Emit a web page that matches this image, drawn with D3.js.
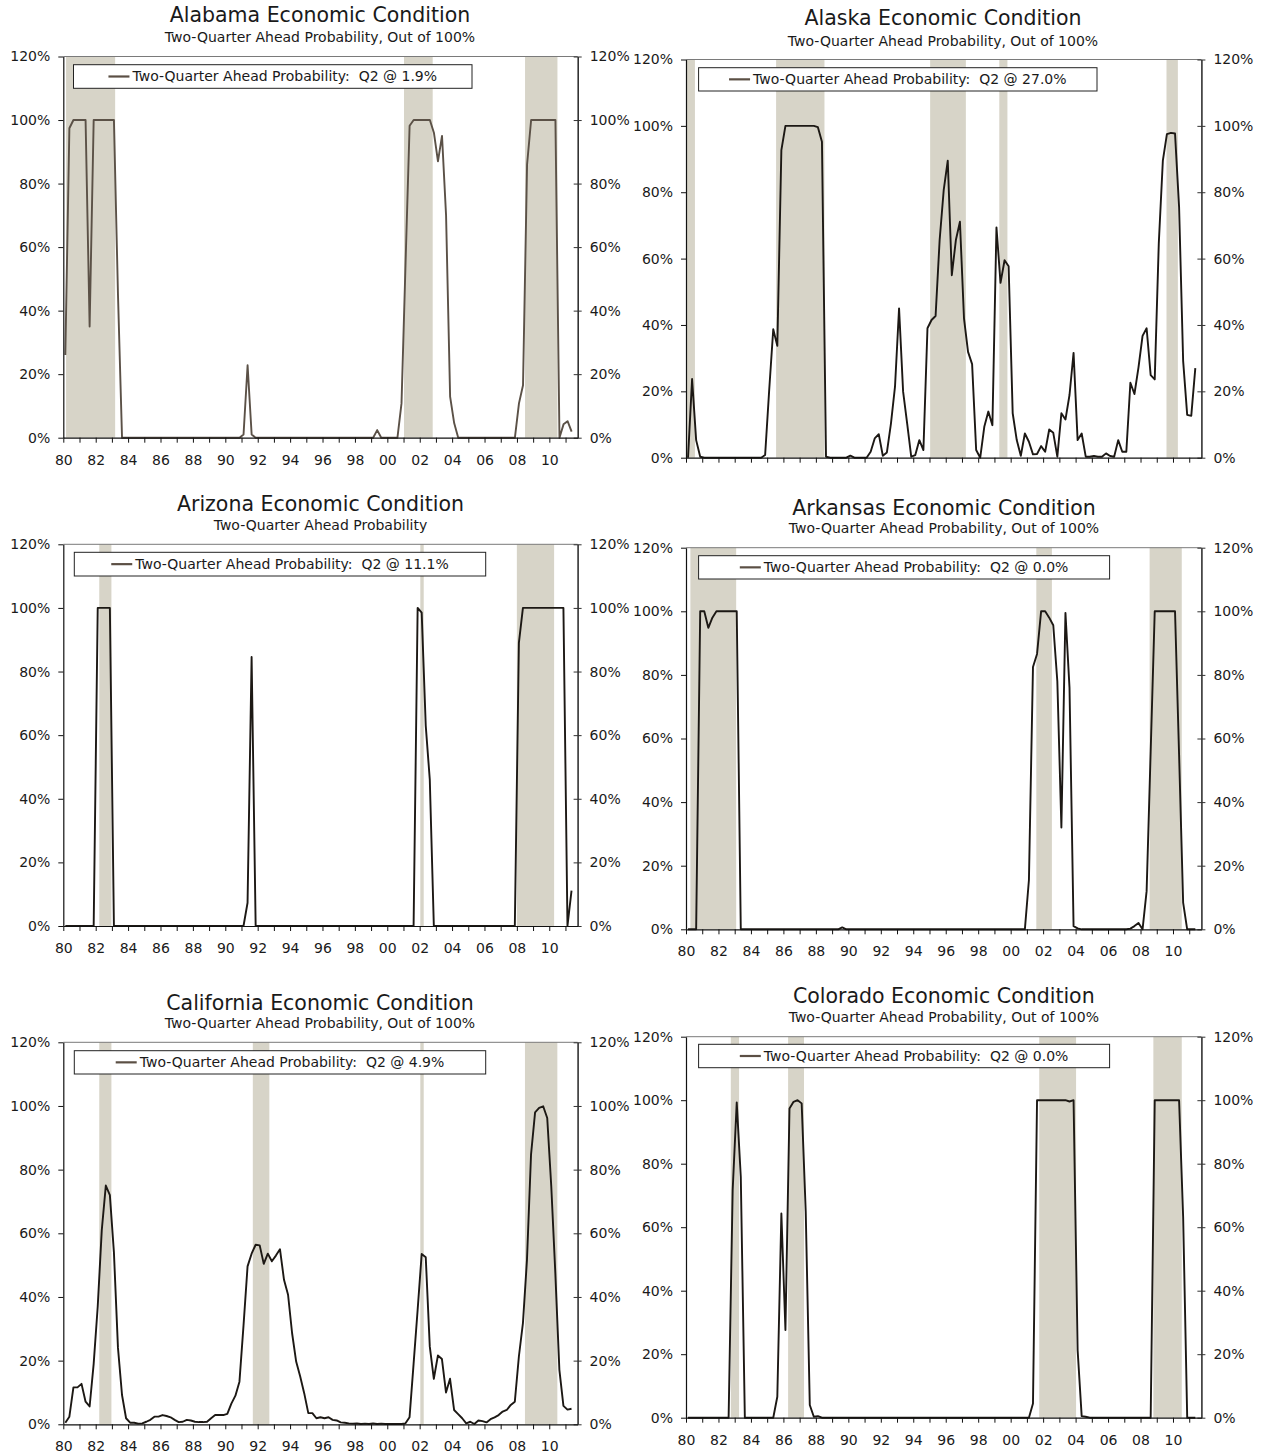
<!DOCTYPE html>
<html><head><meta charset="utf-8">
<script src="https://cdn.jsdelivr.net/npm/d3@7"></script>
<style>
body{margin:0;background:#fff}
svg{display:block}
text{font-family:"DejaVu Sans",sans-serif;fill:#1a1a1a}
</style>
</head><body>
<svg id="chart" width="1270" height="1453"></svg>
<script>
// ---------------- DATA ----------------
const states = ["Alabama","Alaska","Arizona","Arkansas","California","Colorado"];
const subtitles = [
  "Two-Quarter Ahead Probability, Out of 100%",
  "Two-Quarter Ahead Probability, Out of 100%",
  "Two-Quarter Ahead Probability",
  "Two-Quarter Ahead Probability, Out of 100%",
  "Two-Quarter Ahead Probability, Out of 100%",
  "Two-Quarter Ahead Probability, Out of 100%"
];
const latestLabels = ["1.9%","27.0%","11.1%","0.0%","4.9%","0.0%"];
const startYear = 1980;           // first quarter: 1980 Q1, quarterly to 2011 Q2
const xTickLabels = ["80","82","84","86","88","90","92","94","96","98","00","02","04","06","08","10"];
const yTickValues = [0,20,40,60,80,100,120];

const alabama = [26,97.4,100,100,100,100,35,100,100,100,100,100,100,45,
 0,0,0,0,0,0,0,0,0,0,0,0,0,0,0,0,0,0,0,0,0,0,0,0,0,0,0,0,0,0,
 1,22.8,1,
 0,0,0,0,0,0,0,0,0,0,0,0,0,0,0,0,0,0,0,0,0,0,0,0,0,0,0,0,0,0,
 2.4,0,0,0,0,0,10.8,55,98.2,100,100,100,100,100,96,87,95,70,12.9,4.6,
 0,0,0,0,0,0,0,0,0,0,0,0,0,0,0,
 10.8,16.5,86,100,100,100,100,100,100,100,0,4.2,5.2,1.9];

const alaska = [0,23.7,5.3,0.3,
 0,0,0,0,0,0,0,0,0,0,0,0,0,0,0,
 0.8,20.4,38.7,33.7,92.7,100,100,100,100,100,100,100,100,99.6,95.2,0.3,
 0,0,0,0,0,0.6,0,0,0,0,
 1.8,5.8,7.1,0.6,1.6,10.3,21.4,45,19.9,10.3,0.3,0.8,5.3,2.3,39,41.5,42.7,65.6,80.6,89.5,
 55,65.6,71.1,42,31.9,28.2,2.3,0,9.3,13.9,9.8,69.4,52.7,59.5,57.7,13.4,5.3,0.6,7.3,4.8,
 1,1.1,3.5,1.8,8.5,7.5,0.3,13.4,11.5,18.9,31.6,5.3,7.3,0.3,0.3,0.5,0.3,0.3,1.3,0.5,
 0.3,5.3,1.8,1.8,22.6,19.2,27.2,36.7,39,24.9,23.6,64.6,89.5,97.5,97.9,97.7,75.6,29.2,12.9,12.6,27];

const arizona = [0,0,0,0,0,0,0,0,100,100,100,100,
 0,0,0,0,0,0,0,0,0,0,0,0,0,0,0,0,0,0,0,0,0,0,0,0,0,0,0,0,0,0,0,0,0,
 7.3,84.6,
 0,0,0,0,0,0,0,0,0,0,0,0,0,0,0,0,0,0,0,0,0,0,0,0,0,0,0,0,0,0,0,0,0,0,0,0,0,0,0,0,
 100,98.5,63,46,
 0,0,0,0,0,0,0,0,0,0,0,0,0,0,0,0,0,0,0,0,0,
 89,100,100,100,100,100,100,100,100,100,100,100,0,11.1];

const arkansas = [0,0,0,100,100,94.8,98,100,100,100,100,100,100,
 0,0,0,0,0,0,0,0,0,0,0,0,0,0,0,0,0,0,0,0,0,0,0,0,0,
 0.6,
 0,0,0,0,0,0,0,0,0,0,0,0,0,0,0,0,0,0,0,0,0,0,0,0,0,0,0,0,0,0,0,0,0,0,0,0,0,0,0,0,0,0,0,0,0,
 15.5,82.5,86.6,100,100,98,95.6,78,32,99.5,76,1,0.3,
 0,0,0,0,0,0,0,0,0,0,0,0,
 0.2,1,2,0,12,56,100,100,100,100,100,100,55,8.4,0,0,0];

const california = [0.5,2.4,11.6,11.6,12.7,7.1,5.6,19,37,61,75,72,54,24,9.2,1.9,0.5,0.5,0.2,0.3,
 0.8,1.4,2.4,2.4,2.9,2.6,2.2,1.4,0.7,0.8,1.4,1.2,0.8,0.7,0.7,0.8,1.9,2.9,2.9,2.9,
 3.3,6.5,9,13.4,31,49.6,53.6,56.4,56.2,50.4,53.6,51.2,53,55,45.4,40.7,28.6,19.7,15,9.7,
 3.5,3.5,1.9,2.2,1.9,2.2,1.4,1.2,0.6,0.5,0.3,0.2,0.3,0.1,0.2,0.1,0.3,0.1,0.2,0.1,
 0.1,0.1,0.1,0.1,0.3,2.2,19,36,53.5,52.5,24.4,14.3,21.6,20.5,10,14.3,4.5,3.2,1.9,0.3,
 0.8,0.1,1.2,1,0.6,1.6,2.2,2.9,4,4.5,6.1,7.1,21.3,31.8,51.7,84.7,98,99.4,99.9,96.2,
 74.7,47.5,17.1,5.8,4.6,4.9];

const colorado = [0,0,0,0,0,0,0,0,0,0,0,71.7,99.3,75.9,
 0,0,0,0,0,0,0,0,
 6.6,64.3,27.6,97.4,99.5,100,99,65,4,0.3,0.5,
 0,0,0,0,0,0,0,0,0,0,0,0,0,0,0,0,0,0,0,0,0,0,0,0,0,0,0,0,0,0,0,0,0,0,0,0,0,0,0,0,0,0,0,0,0,0,0,0,0,0,0,0,
 4.5,100,100,100,100,100,100,100,100,99.6,100,21.3,0.5,0.3,
 0,0,0,0,0,0,0,0,0,0,0,0,0,0,0,0,
 100,100,100,100,100,100,100,63.3,0,0,0];

// shaded recession periods [start, end] in fractional years
const alabamaShade = [[1980.17,1983.2],[2001.03,2002.8],[2008.5,2010.5]];
const alaskaShade = [[1980.04,1980.55],[1985.55,1988.53],[1995.04,1997.24],[1999.3,1999.8],[2009.6,2010.3]];
const arizonaShade = [[1982.22,1982.97],[2002.04,2002.25],[2008.0,2010.3]];
const arkansasShade = [[1980.27,1983.09],[2001.58,2002.54],[2008.56,2010.54]];
const californiaShade = [[1982.22,1982.97],[1991.7,1992.72],[2002.04,2002.25],[2008.5,2010.5]];
const coloradoShade = [[1982.76,1983.27],[1986.29,1987.27],[2001.76,2004.03],[2008.79,2010.54]];

const seriesList = [alabama, alaska, arizona, arkansas, california, colorado];
const shadeList = [alabamaShade, alaskaShade, arizonaShade, arkansasShade, californiaShade, coloradoShade];

// ---------------- LAYOUT ----------------
const layout = [
 {L:63.3,R:577.7,T:56.5,B:437.7, tx:320, ty:15.3, sy:37.3, lg:[73.5,64.7,472,88.3], xlab:true, color:"#5b5147"},
 {L:686,R:1201.4,T:59.5,B:457.7, tx:943, ty:18.3, sy:40.7, lg:[698.6,67.7,1097,91], xlab:false, color:"#1c1814"},
 {L:63.3,R:577.6,T:544.3,B:926, tx:320.5, ty:504, sy:525.3, lg:[74.3,552.3,485.7,576], xlab:true, color:"#1c1814"},
 {L:686,R:1201.4,T:547.7,B:929.3, tx:944, ty:508.3, sy:528.3, lg:[698.6,555.7,1109.6,579], xlab:true, color:"#1c1814"},
 {L:63.3,R:577.6,T:1042.3,B:1424.3, tx:320, ty:1002.7, sy:1023.3, lg:[74.3,1050.7,485.7,1074], xlab:true, color:"#1c1814"},
 {L:686,R:1201.4,T:1036.7,B:1417.7, tx:943.8, ty:995.7, sy:1016.7, lg:[698.6,1044.3,1109.6,1067.7], xlab:true, color:"#1c1814"}
];

const svg = d3.select("#chart");
const shadeColor = "#d7d4c8";
const yearTicks = d3.range(1980, 2012);

states.forEach((st, k) => {
  const lo = layout[k];
  const g = svg.append("g");
  const x = d3.scaleLinear().domain([1980, 2011.75]).range([lo.L, lo.R]);
  const y = d3.scaleLinear().domain([0, 120]).range([lo.B, lo.T]);

  // shading
  g.append("g").selectAll("rect").data(shadeList[k]).join("rect")
    .attr("x", d => x(d[0])).attr("width", d => x(d[1]) - x(d[0]))
    .attr("y", y(120)).attr("height", y(0) - y(120))
    .attr("fill", shadeColor);

  // top border
  g.append("line").attr("x1", lo.L).attr("x2", lo.R).attr("y1", y(120)).attr("y2", y(120))
    .attr("stroke", "#7a7a7a").attr("stroke-width", 1);

  // data line
  const vals = seriesList[k];
  const line = d3.line().x((d, i) => x(startYear + (i + 0.5) / 4)).y(d => y(d));
  g.append("path").datum(vals).attr("d", line)
    .attr("fill", "none").attr("stroke", lo.color).attr("stroke-width", 1.9)
    .attr("stroke-linejoin", "round");

  // left axis
  const la = g.append("g").attr("transform", `translate(${lo.L},0)`)
    .call(d3.axisLeft(y).tickValues(yTickValues).tickFormat(d => d + "%")
      .tickSizeInner(5).tickSizeOuter(0).tickPadding(8));
  la.select(".domain").attr("stroke", "#111").attr("stroke-width", 1.2);
  la.selectAll(".tick line").attr("stroke", "#111");
  la.selectAll("text").style("font-size", "14px").attr("fill", "#1a1a1a");

  // right axis
  const ra = g.append("g").attr("transform", `translate(${lo.R},0)`)
    .call(d3.axisRight(y).tickValues(yTickValues).tickFormat(d => d + "%")
      .tickSizeInner(4).tickSizeOuter(0).tickPadding(8));
  ra.select(".domain").attr("stroke", "#333").attr("stroke-width", 1.6);
  ra.selectAll(".tick line").attr("x1", -4).attr("x2", 4).attr("stroke", "#333");
  ra.selectAll("text").style("font-size", "14px").attr("fill", "#1a1a1a");

  // bottom axis
  const ba = g.append("g").attr("transform", `translate(0,${lo.B})`)
    .call(d3.axisBottom(x).tickValues(yearTicks)
      .tickFormat(d => (lo.xlab && (d - 1980) % 2 === 0) ? xTickLabels[(d - 1980) / 2] : "")
      .tickSizeInner(5).tickSizeOuter(0).tickPadding(12));
  ba.select(".domain").attr("stroke", "#111").attr("stroke-width", 1.2);
  ba.selectAll(".tick line").attr("stroke", "#111");
  ba.selectAll("text").style("font-size", "14px").attr("fill", "#1a1a1a");

  // titles
  g.append("text").attr("x", lo.tx).attr("y", lo.ty).attr("dy", "0.35em")
    .attr("text-anchor", "middle").style("font-size", "20.5px")
    .text(st + " Economic Condition");
  g.append("text").attr("x", lo.tx).attr("y", lo.sy).attr("dy", "0.35em")
    .attr("text-anchor", "middle").style("font-size", "14px")
    .text(subtitles[k]);

  // legend
  const [bx0, by0, bx1, by1] = lo.lg;
  g.append("rect").attr("x", bx0).attr("y", by0).attr("width", bx1 - bx0).attr("height", by1 - by0)
    .attr("fill", "#fff").attr("stroke", "#222").attr("stroke-width", 1);
  const lt = g.append("text").attr("y", (by0 + by1) / 2).attr("dy", "0.35em")
    .style("font-size", "14px").style("white-space", "pre")
    .text("Two-Quarter Ahead Probability:  Q2 @ " + latestLabels[k]);
  const tw = lt.node().getComputedTextLength();
  const sample = 21, gap = 3;
  const startX = (bx0 + bx1) / 2 - (sample + gap + tw) / 2;
  lt.attr("x", startX + sample + gap);
  g.append("line").attr("x1", startX).attr("x2", startX + sample)
    .attr("y1", (by0 + by1) / 2).attr("y2", (by0 + by1) / 2)
    .attr("stroke", "#5b4f44").attr("stroke-width", 2.2);
});
</script>
</body></html>
